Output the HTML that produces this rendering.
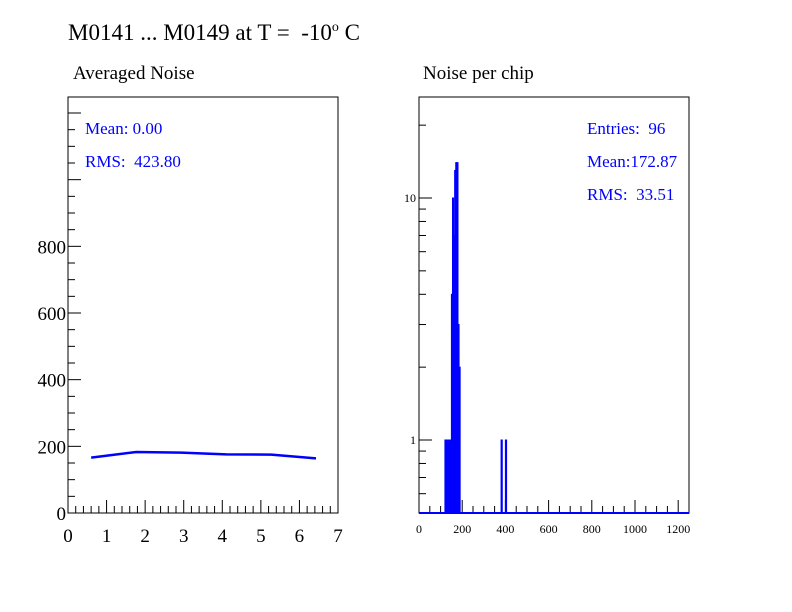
<!DOCTYPE html>
<html><head><meta charset="utf-8"><style>
html,body{margin:0;padding:0;background:#fff;}
svg{display:block;font-family:"Liberation Serif",serif;}
svg text{white-space:pre;}
</style></head><body>
<svg id="c" width="792" height="612" viewBox="0 0 792 612">
<text x="68" y="40" font-size="23">M0141 ... M0149 at T =&#160; -10<tspan font-size="14" dy="-9">o</tspan><tspan dy="9"> C</tspan></text>
<text x="73" y="79" font-size="19">Averaged Noise</text>
<text x="423" y="79" font-size="19">Noise per chip</text>
<rect x="68" y="97" width="270" height="416" fill="none" stroke="#000"/>
<rect x="419" y="97" width="270" height="416" fill="none" stroke="#000"/>
<g fill="#0000ff" font-size="17">
<text x="85" y="134">Mean: 0.00</text>
<text x="85" y="167">RMS:&#160; 423.80</text>
<text x="587" y="134">Entries:&#160; 96</text>
<text x="587" y="167">Mean:172.87</text>
<text x="587" y="200">RMS:&#160; 33.51</text>
</g>
<g id="left"></g>
<g id="right"></g>
</svg>
<script>
const lineX = [0.6, 1.77, 2.93, 4.1, 5.27, 6.43];
const lineY = [166, 183, 181, 176, 175, 164];
const leftYTicks = [0, 200, 400, 600, 800];
const leftXTicks = [0, 1, 2, 3, 4, 5, 6, 7];
const binStart = [120,125,130,135,140,145,150,155,160,165,170,175,180,185,380,385,400,405];
const binCount = [1,1,1,1,1,1,4,10,7,13,14,14,3,2,1,0,1,0];
const binWidth = 5;
const rightXTicks = [0,200,400,600,800,1000,1200];
const rightYTicks = [1, 10];
const NS="http://www.w3.org/2000/svg";
function mk(p,t,a){const e=document.createElementNS(NS,t);for(const k in a)e.setAttribute(k,a[k]);p.appendChild(e);return e;}
const L=document.getElementById('left'), R=document.getElementById('right');
const lx=v=>68+v*(270/7), ly=v=>513-v*(416/1248);
for(let v=0;v<=7.001;v+=0.2){const maj=Math.abs(v-Math.round(v))<0.01;
 const t=mk(L,'line',{x1:lx(v),x2:lx(v),y1:513,y2:513-(maj?13:7),stroke:'#000'});
 
 }
for(let v=0;v<=1248;v+=50){const maj=v%200===0;
 const t=mk(L,'line',{x1:68,x2:68+(maj?13:7),y1:ly(v),y2:ly(v),stroke:'#000'});
 
 }
leftXTicks.forEach(v=>{const t=mk(L,'text',{x:lx(v),y:542,'font-size':19,'text-anchor':'middle'});t.textContent=v;
 
 });
leftYTicks.forEach(v=>{const t=mk(L,'text',{x:66,y:ly(v)+7,'font-size':19,'text-anchor':'end'});t.textContent=v;
 
 });
const pl=mk(L,'polyline',{points:lineX.map((x,i)=>lx(x)+','+ly(lineY[i])).join(' '),fill:'none',stroke:'#0000ff','stroke-width':2.5});


const rx=v=>419+v*(270/1250);
const ry=v=>440-Math.log10(Math.max(v,0.5))*242;
for(let v=0;v<=1250;v+=50){const maj=v%200===0;
 const t=mk(R,'line',{x1:rx(v),x2:rx(v),y1:513,y2:513-(maj?13:7),stroke:'#000'});
 
 }
[0.6,0.7,0.8,0.9,1,2,3,4,5,6,7,8,9,10,20].forEach(v=>{const maj=(v===1||v===10);
 const t=mk(R,'line',{x1:419,x2:419+(maj?13:7),y1:ry(v),y2:ry(v),stroke:'#000'});
 
 });
rightXTicks.forEach(v=>{const t=mk(R,'text',{x:rx(v),y:533,'font-size':12,'text-anchor':'middle'});t.textContent=v;
 
 });
rightYTicks.forEach(v=>{const t=mk(R,'text',{x:416,y:ry(v)+4,'font-size':12,'text-anchor':'end'});t.textContent=v;
 
 });
binStart.forEach((b,i)=>{if(binCount[i]<=0)return;
 const y=ry(binCount[i]);
 const r=mk(R,'rect',{x:rx(b),y:y,width:Math.max(rx(b+binWidth)-rx(b),1.2),height:513-y,fill:'#0000ff',stroke:'#0000ff','stroke-width':1});
 
 });
const base=mk(R,'line',{x1:419,x2:689,y1:513,y2:513,stroke:'#0000ff','stroke-width':2});


</script>
</body></html>
